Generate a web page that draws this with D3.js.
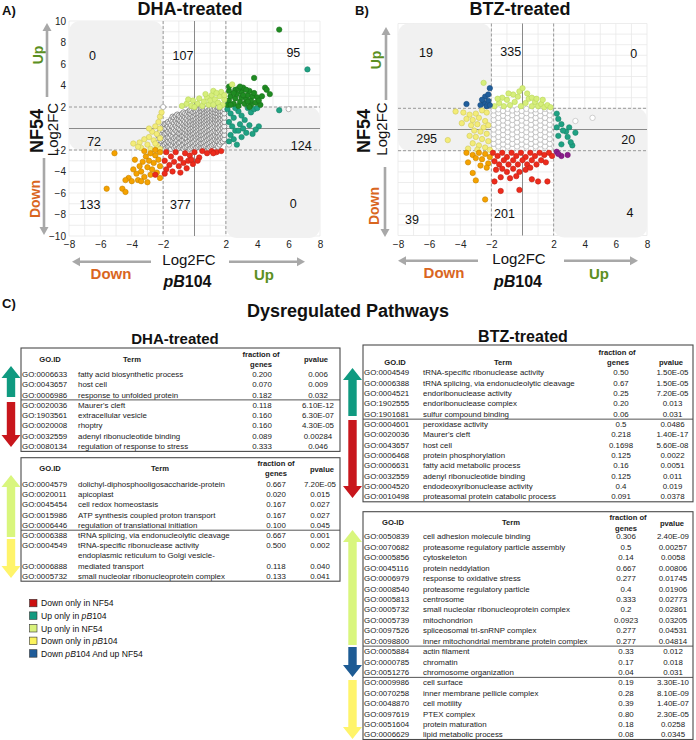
<!DOCTYPE html>
<html><head><meta charset="utf-8">
<script src="https://cdn.jsdelivr.net/npm/d3@7/dist/d3.min.js"></script>
<style>html,body{margin:0;padding:0;background:#fff}svg{display:block}</style>
</head><body>
<svg id="chart" width="696" height="740"></svg>
<script>
// ================= DATA =================
const xTicks = [-8,-6,-4,-2,2,4,6,8];
const yTicksA = [-10,-8,-6,-4,-2,2,4,6,8,10];
const quadCountsA = [0,107,95,72,124,133,377,0];
const quadCountsB = [19,335,0,295,20,39,201,4];

// Panel A (DHA) points: [x (pB104 log2FC), y (NF54 log2FC)]
const A_greyCols = [
 [-2.3,[-1.3,-0.7]],
 [-2.2,[-1.5,-0.9,-0.3]],
 [-2.1,[-1.8,-1.2,-0.6,0.0]],
 [-2.0,[-1.6,-1.1,-0.7,-0.2,0.2]],
 [-1.9,[-1.9,-1.5,-1.0,-0.5,0.0,0.4]],
 [-1.8,[-1.8,-1.35,-0.9,-0.45,0.0,0.45]],
 [-1.7,[-1.7,-1.2,-0.8,-0.3,0.2,0.6]],
 [-1.6,[-1.7,-1.3,-0.85,-0.4,0.05,0.5]],
 [-1.5,[-1.9,-1.5,-1.1,-0.6,-0.2,0.3,0.8]],
 [-1.4,[-1.6,-1.2,-0.75,-0.3,0.15,0.65,1.1]],
 [-1.3,[-1.8,-1.3,-0.9,-0.4,0.0,0.5,1.0]],
 [-1.2,[-1.7,-1.25,-0.8,-0.2,0.25,0.7,1.15]],
 [-1.1,[-1.9,-1.5,-1.1,-0.7,-0.3,0.1,0.5,0.9,1.3]],
 [-1.0,[-1.8,-1.35,-0.9,-0.45,0.0,0.4,0.85,1.2]],
 [-0.9,[-1.7,-1.3,-0.9,-0.5,-0.1,0.3,0.7,1.1]],
 [-0.8,[-1.6,-1.1,-0.7,-0.3,0.15,0.55,0.95,1.35]],
 [-0.7,[-1.9,-1.5,-1.1,-0.7,-0.3,0.0,0.4,0.8,1.2,1.5]],
 [-0.6,[-1.75,-1.3,-0.85,-0.45,-0.1,0.25,0.65,1.05,1.4]],
 [-0.5,[-1.7,-1.3,-0.9,-0.6,-0.2,0.2,0.5,0.9,1.3]],
 [-0.4,[-1.6,-1.2,-0.7,-0.35,0.05,0.4,0.75,1.15,1.55]],
 [-0.3,[-1.9,-1.5,-1.1,-0.8,-0.4,-0.1,0.3,0.6,1.0,1.4,1.7]],
 [-0.2,[-1.8,-1.35,-0.95,-0.6,-0.3,0.0,0.35,0.7,1.0,1.3,1.65]],
 [-0.1,[-1.7,-1.3,-0.9,-0.5,-0.2,0.1,0.4,0.8,1.1,1.5]],
 [0.0,[-1.6,-1.2,-0.8,-0.45,-0.1,0.25,0.5,0.8,1.15,1.45,1.8]],
 [0.1,[-1.8,-1.4,-1.0,-0.7,-0.3,0.0,0.3,0.6,0.9,1.3,1.6,1.9]],
 [0.2,[-1.7,-1.3,-0.85,-0.55,-0.2,0.1,0.4,0.7,1.0,1.35,1.7]],
 [0.3,[-1.6,-1.2,-0.8,-0.5,-0.1,0.2,0.5,0.8,1.1,1.4,1.8]],
 [0.4,[-1.8,-1.4,-1.0,-0.65,-0.3,0.05,0.35,0.65,0.95,1.25,1.6,1.9]],
 [0.5,[-1.8,-1.4,-1.0,-0.6,-0.3,0.1,0.4,0.7,1.0,1.3,1.6,1.9]],
 [0.6,[-1.7,-1.3,-0.95,-0.55,-0.2,0.2,0.5,0.8,1.15,1.45,1.75]],
 [0.7,[-1.6,-1.2,-0.8,-0.4,-0.1,0.3,0.6,0.9,1.2,1.5,1.8]],
 [0.8,[-1.5,-1.1,-0.7,-0.3,0.05,0.4,0.75,1.05,1.35,1.65,1.9]],
 [0.9,[-1.8,-1.4,-1.0,-0.6,-0.2,0.2,0.5,0.8,1.1,1.4,1.7]],
 [1.0,[-1.7,-1.3,-0.9,-0.5,-0.15,0.25,0.6,0.9,1.2,1.5,1.8]],
 [1.1,[-1.6,-1.2,-0.8,-0.4,0.0,0.4,0.7,1.0,1.3,1.6,1.9]],
 [1.2,[-1.5,-1.1,-0.7,-0.3,0.1,0.5,0.85,1.15,1.45,1.75]],
 [1.3,[-1.4,-1.0,-0.6,-0.2,0.2,0.6,0.9,1.2,1.5,1.8]],
 [1.4,[-1.6,-1.15,-0.75,-0.35,0.05,0.45,0.8,1.1,1.4,1.7]],
 [1.5,[-1.7,-1.2,-0.8,-0.4,0.0,0.4,0.8,1.1,1.4,1.7,1.95]],
 [1.6,[-1.5,-1.1,-0.7,-0.25,0.15,0.55,0.9,1.25,1.55,1.85]],
 [1.7,[-1.3,-0.9,-0.5,-0.1,0.3,0.7,1.0,1.3,1.6,1.9]],
 [1.8,[-1.2,-0.8,-0.35,0.05,0.45,0.85,1.2,1.6,1.95]],
 [1.9,[-1.0,-0.6,-0.2,0.2,0.6,1.0,1.4,1.8]]
];
const A_whiteOut = [[6.0,1.8],[2.2,-1.5],[-2.0,2.0]];
const A_upBoth = [[2.1,2.2],[2.2,2.6],[2.3,3.0],[2.2,3.5],[2.5,2.3],[2.6,2.8],[2.7,3.2],[2.6,3.6],[2.8,2.1],[2.9,2.5],[3.0,2.9],[3.0,3.4],[3.1,3.8],[3.2,2.3],[3.3,2.7],[3.4,3.1],[3.5,3.5],[3.6,2.2],[3.6,2.6],[3.7,3.0],[3.8,3.3],[3.9,2.4],[4.0,2.9],[3.8,4.7],[4.5,3.8],[4.6,3.6],[4.8,3.2],[2.3,2.2],[2.5,3.3],[2.8,3.7],[3.1,3.1],[3.4,2.5],[3.5,2.0],[4.2,2.2],[4.3,3.0],[2.2,3.9],[2.9,3.9],[3.3,3.6],[4.1,2.6],[5.4,9.2]];
const A_upPB = [[2.1,1.8],[2.3,1.4],[2.5,1.0],[2.2,0.6],[2.4,0.2],[2.6,-0.2],[2.3,-0.6],[2.5,-1.0],[2.7,-1.5],[2.8,1.6],[3.0,1.2],[3.2,0.8],[2.9,0.4],[3.1,0.0],[3.3,-0.4],[3.6,1.5],[3.8,1.8],[4.0,1.9],[3.5,0.3],[3.7,-0.5],[4.1,0.2],[3.0,-0.8],[2.2,-1.2],[3.4,1.9],[2.6,1.9],[2.8,-0.2],[3.9,-0.1],[7.2,5.5],[5.4,1.7]];
const A_upNF = [[-0.8,2.1],[-0.5,2.3],[-0.2,2.1],[-0.1,2.6],[0.2,2.3],[0.3,2.8],[0.5,2.1],[0.6,2.5],[0.8,2.9],[0.9,2.2],[1.0,2.6],[1.1,3.1],[1.2,2.2],[1.3,2.7],[1.2,3.5],[1.5,2.4],[1.6,3.0],[1.7,3.4],[1.8,2.2],[1.9,2.7],[1.6,2.0],[0.0,2.0],[0.7,3.2],[1.4,3.3],[2.4,4.1],[-0.4,2.7],[1.9,3.1]];
const A_downPB = [[-2.2,1.1],[-2.3,0.6],[-2.5,0.2],[-2.2,0.0],[-2.7,-0.3],[-2.4,-0.5],[-2.9,-0.8],[-2.2,-0.9],[-2.6,-1.1],[-3.2,-1.0],[-3.5,-1.3],[-3.9,-1.4],[-3.0,-1.5],[-2.4,-1.6],[-2.8,-1.9],[-2.2,-1.9],[-3.4,-1.8],[-2.1,1.5],[-2.5,-1.4],[-2.9,0.0],[-3.6,-1.7]];
const A_downBoth = [[-5.1,-2.3],[-5.6,-5.6],[-4.6,-5.6],[-4.4,-5.9],[-2.2,-2.2],[-2.5,-2.5],[-2.8,-2.3],[-3.1,-2.6],[-2.3,-2.9],[-2.6,-3.2],[-2.9,-3.0],[-3.3,-3.1],[-3.5,-3.5],[-2.2,-3.5],[-2.7,-3.8],[-3.0,-3.6],[-3.4,-4.0],[-3.7,-4.2],[-3.9,-3.8],[-4.2,-4.6],[-4.0,-4.9],[-3.6,-4.8],[-3.2,-4.5],[-2.8,-4.3],[-2.4,-4.1],[-3.0,-5.0],[-4.4,-4.8],[-3.4,-4.9],[-2.5,-2.0],[-3.8,-2.9],[-2.2,-4.6],[-3.2,-2.1]];
const A_downNF = [[-1.8,-2.2],[-1.5,-2.6],[-1.2,-2.2],[-0.9,-2.8],[-0.6,-2.3],[-0.3,-2.5],[0.0,-2.2],[0.3,-2.7],[0.5,-2.1],[0.8,-2.3],[1.1,-2.1],[1.4,-2.2],[1.7,-2.1],[-1.9,-3.0],[-1.6,-3.4],[-1.3,-3.1],[-1.0,-3.5],[-0.7,-3.2],[-0.4,-3.0],[-1.8,-3.8],[-1.4,-4.0],[-0.9,-4.1],[-0.5,-3.7],[-0.1,-3.3],[0.2,-3.0],[-1.9,-4.2],[-2.5,-4.3],[1.2,-2.3],[-0.2,-2.9]];

// Panel B (BTZ) points
const B_whiteCols = [
 [-1.85,[-1.8,-1.35,-0.9,-0.45,0.0,0.45,0.9,1.35,1.8]],
 [-1.55,[-1.6,-1.15,-0.7,-0.25,0.2,0.65,1.1,1.55,1.9]],
 [-1.25,[-1.85,-1.4,-0.95,-0.5,-0.05,0.4,0.85,1.3,1.75]],
 [-0.95,[-1.6,-1.15,-0.7,-0.25,0.2,0.65,1.1,1.55,1.95]],
 [-0.65,[-1.8,-1.35,-0.9,-0.45,0.0,0.45,0.9,1.35,1.8]],
 [-0.35,[-1.6,-1.15,-0.7,-0.25,0.2,0.65,1.1,1.55,1.9]],
 [-0.05,[-1.85,-1.4,-0.95,-0.5,-0.05,0.4,0.85,1.3,1.75]],
 [0.25,[-1.6,-1.15,-0.7,-0.25,0.2,0.65,1.1,1.55,1.95]],
 [0.55,[-1.8,-1.35,-0.9,-0.45,0.0,0.45,0.9,1.35,1.8]],
 [0.85,[-1.6,-1.15,-0.7,-0.25,0.2,0.65,1.1,1.55,1.9]],
 [1.15,[-1.85,-1.4,-0.95,-0.5,-0.05,0.4,0.85,1.3,1.75]],
 [1.45,[-1.6,-1.15,-0.7,-0.25,0.2,0.65,1.1,1.55,1.95]],
 [1.75,[-1.8,-1.35,-0.9,-0.45,0.0,0.45,0.9,1.35,1.8]]
];
const B_whiteOut = [[3.4,0.8],[4.5,1.1]];
const B_upNF = [[-1.8,2.2],[-1.5,2.5],[-1.2,2.2],[-1.0,2.8],[-0.8,2.3],[-0.5,2.6],[-0.3,3.1],[-0.1,2.2],[0.2,2.5],[0.4,2.9],[0.6,2.2],[0.8,2.6],[1.0,2.2],[1.2,2.4],[1.4,2.1],[1.6,2.3],[1.8,2.1],[-0.6,3.3],[-0.2,3.6],[0.0,3.9],[0.3,3.4],[-1.3,3.0],[-0.9,3.4],[0.6,3.0],[0.9,2.9],[-2.5,4.4],[-1.6,2.9],[1.3,2.8]];
const B_blue = [[-2.1,3.9],[-2.4,3.1],[-3.6,2.4],[-2.2,2.7],[-2.5,2.5],[-2.3,2.2],[-2.7,2.3],[-2.1,2.3],[-2.6,2.8],[-2.2,3.3]];
const B_downPB = [[-4.3,1.7],[-4.8,-1.0],[-3.8,1.6],[-3.4,1.4],[-3.0,1.5],[-2.6,1.8],[-2.3,1.6],[-3.6,1.0],[-3.2,0.9],[-2.8,1.1],[-2.4,0.8],[-3.3,0.4],[-2.9,0.5],[-2.5,0.2],[-2.2,0.4],[-3.1,-0.1],[-2.7,-0.2],[-2.3,-0.4],[-3.4,-0.6],[-3.0,-0.7],[-2.6,-0.9],[-2.2,-1.1],[-3.2,-1.3],[-2.8,-1.5],[-2.4,-1.7],[-2.1,-1.9],[-3.5,-1.8],[-2.9,-1.9],[-3.9,0.6]];
const B_downBoth = [[-3.5,-3.1],[-3.2,-4.1],[-3.0,-4.8],[-2.4,-6.6],[-3.6,-2.2],[-3.2,-2.4],[-2.8,-2.2],[-2.4,-2.3],[-2.1,-2.6],[-2.6,-2.8],[-2.2,-3.2],[-2.7,-3.4],[-3.0,-2.7],[-2.3,-3.6]];
const B_downNF = [[-1.9,-2.2],[-1.6,-2.5],[-1.3,-2.2],[-1.0,-2.6],[-0.7,-2.2],[-0.4,-2.5],[-0.1,-2.2],[0.2,-2.6],[0.5,-2.2],[0.8,-2.5],[1.1,-2.2],[1.4,-2.4],[1.7,-2.2],[1.9,-2.5],[-1.8,-3.0],[-1.5,-3.3],[-1.2,-2.9],[-0.9,-3.3],[-0.6,-2.9],[-0.3,-3.3],[0.0,-2.9],[0.3,-3.3],[0.6,-2.9],[0.9,-3.3],[1.2,-2.9],[1.5,-3.1],[-1.7,-3.8],[-1.3,-3.7],[-1.0,-4.0],[-0.6,-3.7],[-0.2,-4.0],[0.2,-3.8],[0.5,-3.6],[-0.4,-4.4],[-1.4,-4.5],[-0.8,-4.6],[-1.4,-5.8],[-0.2,-5.7],[0.6,-4.7],[1.6,-4.9],[1.0,-4.9],[-1.8,-4.9]];
const B_upPB = [[2.2,1.5],[2.8,-0.2],[3.2,-1.5],[2.3,1.0],[2.5,0.5],[2.2,0.2],[2.6,-0.1],[3.0,0.2],[3.4,-0.3],[2.3,-0.6],[2.5,-1.4],[2.9,-0.7],[3.1,-1.2]];
const B_purple = [[2.2,-2.1],[2.5,-2.5],[2.9,-2.4],[2.3,-2.3]];

// GO tables: [GO.ID, Term, fraction of genes, pvalue]  ('|' = line break in term)
const dhaUp = [["GO:0006633","fatty acid biosynthetic process","0.200","0.006"],["GO:0043657","host cell","0.070","0.009"],["GO:0006986","response to unfolded protein","0.182","0.032"]];
const dhaDown = [["GO:0020036","Maurer's cleft","0.118","6.10E-12"],["GO:1903561","extracellular vesicle","0.160","6.30E-07"],["GO:0020008","rhoptry","0.160","4.30E-05"],["GO:0032559","adenyl ribonucleotide binding","0.089","0.00284"],["GO:0080134","regulation of response to stress","0.333","0.046"]];
const dhaUpNF = [["GO:0004579","dolichyl-diphosphooligosaccharide-protein","0.667","7.20E-05"],["GO:0020011","apicoplast","0.020","0.015"],["GO:0045454","cell redox homeostasis","0.167","0.027"],["GO:0015986","ATP synthesis coupled proton transport","0.167","0.027"],["GO:0006446","regulation of translational initiation","0.100","0.045"]];
const dhaDownPB = [["GO:0006388","tRNA splicing, via endonucleolytic cleavage","0.667","0.001"],["GO:0004549","tRNA-specific ribonuclease activity","0.500","0.002"],["GO:0006888","endoplasmic reticulum to Golgi vesicle-|mediated transport","0.118","0.040"],["GO:0005732","small nucleolar ribonucleoprotein complex","0.133","0.041"]];
const btzUp = [["GO:0004549","tRNA-specific ribonuclease activity","0.50","1.50E-05"],["GO:0006388","tRNA splicing, via endonucleolytic cleavage","0.67","1.50E-05"],["GO:0004521","endoribonuclease activity","0.25","7.20E-05"],["GO:1902555","endoribonuclease complex","0.20","0.013"],["GO:1901681","sulfur compound binding","0.06","0.031"]];
const btzDown = [["GO:0004601","peroxidase activity","0.5","0.0486"],["GO:0020036","Maurer's cleft","0.218","1.40E-17"],["GO:0043657","host cell","0.1698","5.60E-08"],["GO:0006468","protein phosphorylation","0.125","0.0022"],["GO:0006631","fatty acid metabolic process","0.16","0.0051"],["GO:0032559","adenyl ribonucleotide binding","0.125","0.011"],["GO:0004520","endodeoxyribonuclease activity","0.4","0.019"],["GO:0010498","proteasomal protein catabolic process","0.091","0.0378"]];
const btzUpNF = [["GO:0050839","cell adhesion molecule binding","0.306","2.40E-09"],["GO:0070682","proteasome regulatory particle assembly","0.5","0.00257"],["GO:0005856","cytoskeleton","0.14","0.0058"],["GO:0045116","protein neddylation","0.667","0.00806"],["GO:0006979","response to oxidative stress","0.277","0.01745"],["GO:0008540","proteasome regulatory particle","0.4","0.01906"],["GO:0005813","centrosome","0.333","0.02773"],["GO:0005732","small nucleolar ribonucleoprotein complex","0.2","0.02861"],["GO:0005739","mitochondrion","0.0923","0.03205"],["GO:0097526","spliceosomal tri-snRNP complex","0.277","0.04531"],["GO:0098800","inner mitochondrial membrane protein complex","0.277","0.04814"]];
const btzBlue = [["GO:0005884","actin filament","0.33","0.012"],["GO:0000785","chromatin","0.17","0.018"],["GO:0051276","chromosome organization","0.04","0.031"]];
const btzDownPB = [["GO:0009986","cell surface","0.19","3.30E-10"],["GO:0070258","inner membrane pellicle complex","0.28","8.10E-09"],["GO:0048870","cell motility","0.39","1.40E-07"],["GO:0097619","PTEX complex","0.80","2.30E-05"],["GO:0051604","protein maturation","0.18","0.0258"],["GO:0006629","lipid metabolic process","0.08","0.0345"]];

const legendLabels = ["Down only in NF54","Up only in *pB*104","Up only in NF54","Down only in *pB*104","Down *pB*104 And up NF54"];

// ================= STYLE / LAYOUT =================
const FONT = '"Liberation Sans", Arial, Helvetica, sans-serif';
const PC = {upBoth:'#1f8c22', upPB:'#1fa283', upNF:'#d6ee7b', downPB:'#f3ec78', downBoth:'#f5a200', downNF:'#ee2b1c', blue:'#1f5e9c', purple:'#8c1c8c'};
const AC = {teal:'#0f9a80', red:'#c8161c', lg:'#d9f67d', yellow:'#fff46a', blue:'#1d5b94'};
const LC = ['#cc1010','#139a80','#d9f27c','#fbf35c','#1f5c99'];
const GREEN_T = '#5b8f22', ORANGE_T = '#d9661f', AXG = '#a8a8a8';

const svg = d3.select('#chart').attr('font-family', FONT);
const flat = cols => cols.flatMap(([x, ys]) => ys.map(y => [x, y]));

function rich(sel, str){
  str.split('*').forEach((p,i)=>{ if(p) sel.append('tspan').attr('font-style', i%2 ? 'italic' : null).text(p); });
}
function txt(x,y,s,opt={}){
  const t = svg.append('text').attr('x',x).attr('y',y)
    .attr('font-size',opt.size||10).attr('font-weight',opt.bold?'bold':null)
    .attr('text-anchor',opt.anchor||'middle').attr('fill',opt.fill||'#111');
  if(opt.central) t.attr('dominant-baseline','central');
  if(opt.rot) t.attr('transform',`rotate(-90,${x},${y})`);
  rich(t, s);
  return t;
}
function vArrow(x, y0, y1, color){
  const dir = y1 < y0 ? -1 : 1, hl = 8, hw = 4.5;
  svg.append('line').attr('x1',x).attr('x2',x).attr('y1',y0).attr('y2',y1 - dir*hl)
    .attr('stroke',color).attr('stroke-width',2.6);
  svg.append('path').attr('d',`M${x},${y1}L${x-hw},${y1-dir*hl}L${x+hw},${y1-dir*hl}Z`).attr('fill',color);
}
function hArrow(y, x0, x1, color){
  const dir = x1 < x0 ? -1 : 1, hl = 8, hw = 4.5;
  svg.append('line').attr('y1',y).attr('y2',y).attr('x1',x0).attr('x2',x1 - dir*hl)
    .attr('stroke',color).attr('stroke-width',2.6);
  svg.append('path').attr('d',`M${x1},${y}L${x1-dir*hl},${y-hw}L${x1-dir*hl},${y+hw}Z`).attr('fill',color);
}

function scatter(cfg){
  const g = svg.append('g');
  const x = d3.scaleLinear([-8,8], cfg.xr);
  const y = d3.scaleLinear([-10,10], cfg.yr);
  g.append('g').selectAll('line').data(d3.range(-8,9)).join('line')
    .attr('x1',d=>x(d)).attr('x2',d=>x(d)).attr('y1',y(10)).attr('y2',y(-10))
    .attr('stroke','#e9e9e9').attr('stroke-width',0.8);
  g.append('g').selectAll('line').data(d3.range(-10,11)).join('line')
    .attr('y1',d=>y(d)).attr('y2',d=>y(d)).attr('x1',x(-8)).attr('x2',x(8))
    .attr('stroke','#e9e9e9').attr('stroke-width',0.8);
  g.append('rect').attr('x',x(-8)).attr('y',y(10)).attr('width',x(-2)-x(-8)).attr('height',y(-2)-y(10))
    .attr('rx',11).attr('fill','#f1f1f1');
  g.append('rect').attr('x',x(2)).attr('y',y(2)).attr('width',x(8)-x(2)).attr('height',y(-10)-y(2)+2)
    .attr('rx',11).attr('fill','#f1f1f1');
  [-2,2].forEach(v=>{
    g.append('line').attr('x1',x(v)).attr('x2',x(v)).attr('y1',y(10)).attr('y2',y(-10))
      .attr('stroke','#8f8f8f').attr('stroke-width',0.9).attr('stroke-dasharray','3,2');
    g.append('line').attr('y1',y(v)).attr('y2',y(v)).attr('x1',x(-8)).attr('x2',x(8))
      .attr('stroke','#8f8f8f').attr('stroke-width',0.9).attr('stroke-dasharray','3,2');
  });
  g.append('line').attr('x1',x(0)).attr('x2',x(0)).attr('y1',y(10)).attr('y2',y(-10)).attr('stroke','#8a8a8a').attr('stroke-width',1);
  g.append('line').attr('y1',y(0)).attr('y2',y(0)).attr('x1',x(-8)).attr('x2',x(8)).attr('stroke','#8a8a8a').attr('stroke-width',1);
  const ax = g.append('g').attr('transform',`translate(0,${y(-10)})`)
    .call(d3.axisBottom(x).tickValues(xTicks).tickSize(0).tickPadding(5));
  ax.select('.domain').remove();
  ax.selectAll('text').attr('font-size',10).attr('fill','#222').attr('font-family',FONT);
  if(cfg.yTicks){
    const ay = g.append('g').attr('transform',`translate(${x(-8)},0)`)
      .call(d3.axisLeft(y).tickValues(cfg.yTicks).tickSize(0).tickPadding(3));
    ay.select('.domain').remove();
    ay.selectAll('text').attr('font-size',10).attr('fill','#222').attr('font-family',FONT);
  }
  cfg.series.forEach(s=>{
    g.append('g').selectAll('circle').data(s.data).join('circle')
      .attr('cx',d=>x(d[0])).attr('cy',d=>y(d[1])).attr('r',s.r||2.7)
      .attr('fill',s.fill).attr('stroke',s.stroke || d3.color(s.fill).darker(0.6))
      .attr('stroke-width',s.sw||0.6);
  });
  g.append('g').selectAll('text').data(cfg.counts).join('text')
    .attr('x',(d,i)=>x(cfg.countPos[i][0])).attr('y',(d,i)=>y(cfg.countPos[i][1]))
    .attr('text-anchor','middle').attr('dominant-baseline','central')
    .attr('font-size',12.5).attr('fill','#111').text(d=>d);
  return {x,y};
}

// ---------- Panel A ----------
txt(2,15,'A)',{size:13,bold:true,anchor:'start'});
txt(190,15,'DHA-treated',{size:18,bold:true});
scatter({xr:[69,320], yr:[236,21], yTicks:yTicksA,
  counts:quadCountsA,
  countPos:[[-6.5,6.75],[-0.73,6.74],[6.3,7.0],[-6.4,-1.26],[6.8,-1.6],[-6.66,-7.1],[-0.9,-7.1],[6.3,-7.0]],
  series:[
    {data:flat(A_greyCols), fill:'#f3f3f3', stroke:'#676767', r:2.6, sw:0.7},
    {data:A_whiteOut, fill:'#ffffff', stroke:'#8a8a8a', r:2.6},
    {data:A_upPB, fill:PC.upPB},
    {data:A_upBoth, fill:PC.upBoth},
    {data:A_upNF, fill:PC.upNF, stroke:'#b9d65a'},
    {data:A_downPB, fill:PC.downPB, stroke:'#cfc85a'},
    {data:A_downBoth, fill:PC.downBoth},
    {data:A_downNF, fill:PC.downNF}
  ]});
txt(37,131,'NF54',{size:18,bold:true,rot:true,central:true});
txt(52,129.5,'Log2FC',{size:15,rot:true,central:true});
txt(38,55,'Up',{size:14,bold:true,rot:true,central:true,fill:GREEN_T});
txt(35,199,'Down',{size:14,bold:true,rot:true,central:true,fill:ORANGE_T});
vArrow(47,97,23,AXG);
vArrow(44,158,235,AXG);
txt(189,259,'Log2FC',{size:15,central:true});
hArrow(261.7,151,72,AXG);
hArrow(261.7,229,305,AXG);
txt(111,273,'Down',{size:15,bold:true,central:true,fill:ORANGE_T});
txt(264,274,'Up',{size:15,bold:true,central:true,fill:GREEN_T});
txt(187.5,280.5,'*pB*104',{size:16,bold:true,central:true});

// ---------- Panel B ----------
txt(355,15,'B)',{size:13,bold:true,anchor:'start'});
txt(520,15,'BTZ-treated',{size:18,bold:true});
scatter({xr:[398,647], yr:[235.5,23.5], yTicks:null,
  counts:quadCountsB,
  countPos:[[-6.2,7.2],[-0.76,7.3],[7.15,7.1],[-6.16,-0.9],[6.8,-1.0],[-7.1,-8.5],[-1.16,-8.0],[6.9,-7.9]],
  series:[
    {data:flat(B_whiteCols), fill:'#ffffff', stroke:'#b4b4b4', r:2.7, sw:0.7},
    {data:B_whiteOut, fill:'#ffffff', stroke:'#b4b4b4', r:2.7},
    {data:B_upNF, fill:PC.upNF, stroke:'#b9d65a'},
    {data:B_blue, fill:PC.blue},
    {data:B_downPB, fill:PC.downPB, stroke:'#cfc85a'},
    {data:B_downBoth, fill:PC.downBoth},
    {data:B_downNF, fill:PC.downNF},
    {data:B_upPB, fill:PC.upPB},
    {data:B_purple, fill:PC.purple}
  ]});
txt(364,131,'NF54',{size:18,bold:true,rot:true,central:true});
txt(381,129,'Log2FC',{size:15,rot:true,central:true});
txt(376,60,'Up',{size:14,bold:true,rot:true,central:true,fill:GREEN_T});
txt(374,206,'Down',{size:14,bold:true,rot:true,central:true,fill:ORANGE_T});
vArrow(386,100,27,AXG);
vArrow(385,167,237,AXG);
txt(519,258,'Log2FC',{size:15,central:true});
hArrow(260.7,478,398,AXG);
hArrow(260.7,564,638,AXG);
txt(444,271.5,'Down',{size:15,bold:true,central:true,fill:ORANGE_T});
txt(599,273,'Up',{size:15,bold:true,central:true,fill:GREEN_T});
txt(518,280.5,'*pB*104',{size:16,bold:true,central:true});

// ---------- Section C ----------
txt(2,308,'C)',{size:13,bold:true,anchor:'start'});
txt(348,317,'Dysregulated Pathways',{size:18,bold:true});
txt(175,344,'DHA-treated',{size:15,bold:true});
txt(523,341.7,'BTZ-treated',{size:16,bold:true});

function blockArrow(cx, a, b, up, color){
  const sw = 4.2, hw = 9.5, hl = 12;
  let d;
  if(up) d = `M${cx},${a}L${cx+hw},${a+hl}L${cx+sw},${a+hl}L${cx+sw},${b}L${cx-sw},${b}L${cx-sw},${a+hl}L${cx-hw},${a+hl}Z`;
  else d = `M${cx},${b}L${cx+hw},${b-hl}L${cx+sw},${b-hl}L${cx+sw},${a}L${cx-sw},${a}L${cx-sw},${b-hl}L${cx-hw},${b-hl}Z`;
  svg.append('path').attr('d',d).attr('fill',color);
}

function goTable(spec){
  const g = svg.append('g').attr('font-size',7.9).attr('fill','#1a1a1a');
  let yy = spec.top + spec.headH;
  spec.groups.forEach((grp,gi)=>{
    grp.rows.forEach(r=>{
      const lines = r[1].split('|');
      lines.forEach((t,li)=>{
        g.append('text').attr('x',spec.col.term).attr('y',yy+(li+0.5)*spec.rowH).attr('dy','0.35em').text(t);
      });
      const cy = yy + (lines.length-0.5)*spec.rowH;
      g.append('text').attr('x',spec.col.go).attr('y',cy).attr('dy','0.35em').text(r[0]);
      g.append('text').attr('x',spec.col.frac).attr('y',cy).attr('dy','0.35em').attr('text-anchor','middle').text(r[2]);
      g.append('text').attr('x',spec.col.pv).attr('y',cy).attr('dy','0.35em').attr('text-anchor','middle').text(r[3]);
      yy += lines.length*spec.rowH;
    });
    if(gi < spec.groups.length-1)
      g.append('line').attr('x1',spec.x0).attr('x2',spec.x1).attr('y1',yy).attr('y2',yy).attr('stroke','#555').attr('stroke-width',1);
  });
  g.append('rect').attr('x',spec.x0).attr('y',spec.top).attr('width',spec.x1-spec.x0).attr('height',Math.min(yy,739.5)-spec.top)
    .attr('fill','none').attr('stroke','#4a4a4a').attr('stroke-width',1.1);
  spec.head.forEach(h=>{
    g.append('text').attr('x',h[1]).attr('y',h[2]).attr('dy','0.35em').attr('text-anchor','middle')
      .attr('font-weight','bold').attr('font-size',7.6).text(h[0]);
  });
  spec.groups.forEach(grp=> blockArrow(spec.arrowX, grp.arrow[0], grp.arrow[1], grp.up, grp.color));
}

goTable({x0:21,x1:340,top:348,headH:21,rowH:10.3,arrowX:11,
  col:{go:22,term:78,frac:262,pv:318},
  head:[['GO.ID',50,359.7],['Term',132,359.7],['fraction of',261,354],['genes',261,364.5],['pvalue',316,359.5]],
  groups:[{rows:dhaUp,color:AC.teal,up:true,arrow:[366,397]},{rows:dhaDown,color:AC.red,up:false,arrow:[402,447]}]});
goTable({x0:21,x1:340,top:457.7,headH:21.5,rowH:10.2,arrowX:11,
  col:{go:22,term:78,frac:276,pv:320},
  head:[['GO.ID',50,468.3],['Term',160,468.3],['fraction of',276,463],['genes',276,473.5],['pvalue',322,469]],
  groups:[{rows:dhaUpNF,color:AC.lg,up:true,arrow:[475,537]},{rows:dhaDownPB,color:AC.yellow,up:false,arrow:[539,578]}]});
goTable({x0:363,x1:693,top:345,headH:22.5,rowH:10.33,arrowX:352.5,
  col:{go:364,term:423,frac:621,pv:672.5},
  head:[['GO.ID',395,362],['Term',503,362],['fraction of',617,352],['genes',618,362],['pvalue',671,362]],
  groups:[{rows:btzUp,color:AC.teal,up:true,arrow:[368,416]},{rows:btzDown,color:AC.red,up:false,arrow:[420,498]}]});
goTable({x0:363,x1:693,top:511.7,headH:19.8,rowH:10.42,arrowX:352.5,
  col:{go:364,term:423,frac:626,pv:673},
  head:[['GO-ID',393,522.7],['Term',511,522.7],['fraction of',628,517.7],['genes',626,528],['pvalue',672,523]],
  groups:[{rows:btzUpNF,color:AC.lg,up:true,arrow:[530,645]},{rows:btzBlue,color:AC.blue,up:false,arrow:[647,677]},{rows:btzDownPB,color:AC.yellow,up:false,arrow:[680,739]}]});

// ---------- Legend ----------
const lg = svg.append('g');
legendLabels.forEach((lab,i)=>{
  const cy = 603.3 + i*12.6;
  lg.append('rect').attr('x',29.5).attr('y',cy-4).attr('width',7.5).attr('height',7.5)
    .attr('fill',LC[i]).attr('stroke','#333').attr('stroke-width',0.6);
  const t = lg.append('text').attr('x',41).attr('y',cy).attr('dy','0.35em').attr('font-size',8.6).attr('fill','#111');
  rich(t, lab);
});
</script>
</body></html>
